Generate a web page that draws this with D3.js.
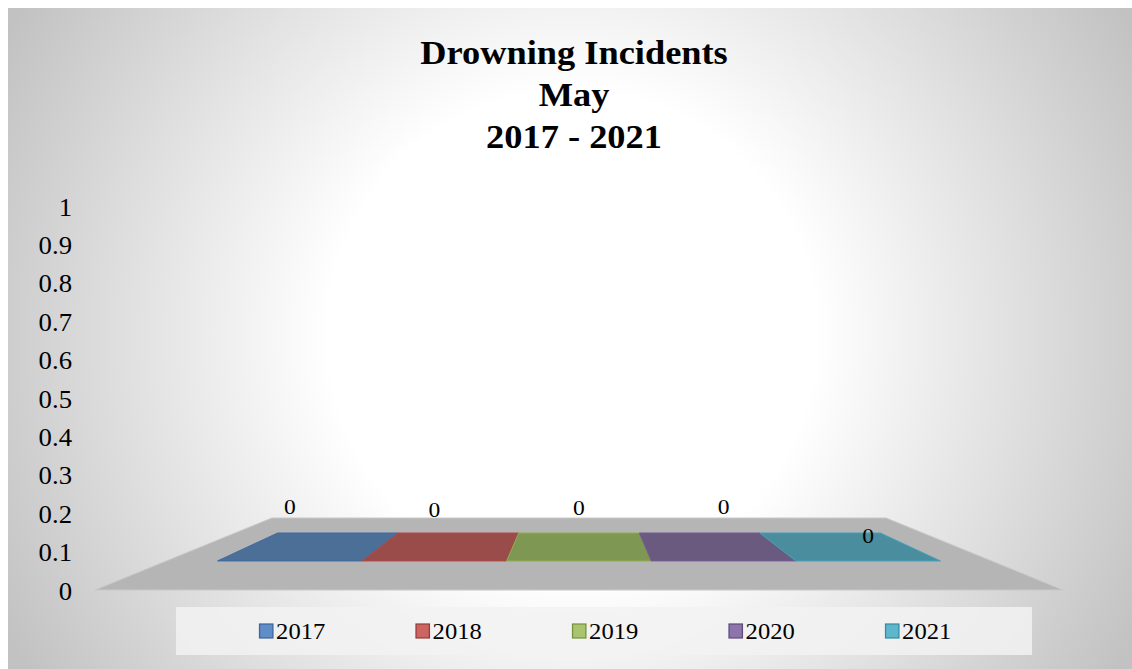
<!DOCTYPE html>
<html>
<head>
<meta charset="utf-8">
<script src="https://cdn.jsdelivr.net/npm/d3@7/dist/d3.min.js"></script>
<style>
  body { margin: 0; background: #fff; }
  text { font-family: "Liberation Serif", "Times New Roman", serif; fill: #000; }
</style>
</head>
<body>
<div id="chart"></div>
<script>
// data
var years = ["2017", "2018", "2019", "2020", "2021"];
var values = [0, 0, 0, 0, 0];
var yTicks = [0, 0.1, 0.2, 0.3, 0.4, 0.5, 0.6, 0.7, 0.8, 0.9, 1];
var titleLines = ["Drowning Incidents", "May", "2017 - 2021"];
var legendColors = ["#5f8dc8", "#cc6461", "#a8c46f", "#8d74aa", "#5eb6cc"];
var legendStroke = ["#3d6596", "#963c3a", "#76923f", "#5f4a7c", "#358ba0"];
var topColors = ["#4c6f97", "#9a4c4a", "#7e9753", "#6b5a80", "#4a8d9e"];
var edgeColors = ["#3f6aa3", "#b04a47", "#8fae4f", "#735b94", "#43a0b8"];

var width = 1132, height = 669;
var stretch = 1.07; // text in the picture is a little wide

var svg = d3.select("#chart").append("svg")
    .attr("width", width)
    .attr("height", height);

// background
var defs = svg.append("defs");
var grad = defs.append("radialGradient")
    .attr("id", "bg")
    .attr("gradientUnits", "userSpaceOnUse")
    .attr("cx", 572).attr("cy", 335).attr("r", 640);
grad.append("stop").attr("offset", 0).attr("stop-color", "#ffffff");
grad.append("stop").attr("offset", 0.38).attr("stop-color", "#ffffff");
grad.append("stop").attr("offset", 1).attr("stop-color", "#c2c2c2");

svg.append("rect")
    .attr("x", 8).attr("y", 8)
    .attr("width", width).attr("height", height)
    .attr("fill", "url(#bg)");

// title
var title = svg.append("g")
    .attr("transform", "translate(574,0) scale(" + stretch + ",1)");
title.selectAll("text")
    .data(titleLines)
    .enter().append("text")
    .attr("x", 0)
    .attr("y", function (d, i) { return 64 + i * 42; })
    .attr("text-anchor", "middle")
    .attr("font-size", 34)
    .attr("font-weight", "bold")
    .text(function (d) { return d; });

// y axis (labels only)
var y = d3.scaleLinear().domain([0, 1]).range([591, 207]);
var yAxis = d3.axisLeft(y)
    .tickValues(yTicks)
    .tickSize(0)
    .tickPadding(0)
    .tickFormat(function (d) { return d3.format("~g")(d); });
var gy = svg.append("g")
    .attr("transform", "translate(72,0) scale(" + stretch + ",1)")
    .call(yAxis);
gy.select(".domain").remove();
gy.selectAll("text")
    .attr("font-size", 25)
    .attr("font-family", "Liberation Serif, Times New Roman, serif")
    .attr("fill", "#000");

// 3d floor + bars, simple perspective
var vp = {x: 579, y: 393}, eye = 197;
function project(X, h, z) {
    return [vp.x + X / z, vp.y + (eye - h) / z];
}
var x = d3.scaleBand().domain(years).range([-424, 424]).padding(0);
var h = d3.scaleLinear().domain([0, 1]).range([0, 384]);
var floorX = [-484, 484], floorZ = [1, 1.576];
var barZ = [1.173, 1.407];
var line = d3.line();

svg.append("path")
    .attr("d", line([
        project(floorX[0], 0, floorZ[0]),
        project(floorX[1], 0, floorZ[0]),
        project(floorX[1], 0, floorZ[1]),
        project(floorX[0], 0, floorZ[1])
    ]) + "Z")
    .attr("fill", "#b5b5b5")
    .attr("stroke", "#c8c8c8")
    .attr("stroke-width", 1);

var bars = years.map(function (d, i) { return {year: d, value: values[i], i: i}; });

// top face of each column (height 0 -> lies on the floor)
svg.selectAll(".barTop")
    .data(bars)
    .enter().append("path")
    .attr("class", "barTop")
    .attr("d", function (d) {
        var x0 = x(d.year), x1 = x0 + x.bandwidth(), t = h(d.value);
        return line([
            project(x0, t, barZ[0]),
            project(x1, t, barZ[0]),
            project(x1, t, barZ[1]),
            project(x0, t, barZ[1])
        ]) + "Z";
    })
    .attr("fill", function (d) { return topColors[d.i]; })
    .attr("stroke", function (d) { return edgeColors[d.i]; })
    .attr("stroke-width", 1);

// data labels
var labelNudge = [0, 3, 1, 0, 29];
svg.selectAll(".lbl")
    .data(bars)
    .enter().append("text")
    .attr("class", "lbl")
    .attr("transform", function (d) {
        var p = project(x(d.year) + x.bandwidth() / 2, h(d.value), barZ[0]);
        var q = project(0, h(d.value), barZ[1]);
        return "translate(" + p[0] + "," + (q[1] - 19 + labelNudge[d.i]) + ") scale(" + stretch + ",1)";
    })
    .attr("text-anchor", "middle")
    .attr("font-size", 22)
    .text(function (d) { return d.value; });

// legend
svg.append("rect")
    .attr("x", 176).attr("y", 607)
    .attr("width", 856).attr("height", 48)
    .attr("fill", "#f2f2f2")
    .attr("fill-opacity", 0.85);

var lx = d3.scalePoint().domain(years).range([259, 885]);
var item = svg.selectAll(".leg")
    .data(years)
    .enter().append("g")
    .attr("class", "leg")
    .attr("transform", function (d) { return "translate(" + lx(d) + ",631) scale(" + stretch + ",1)"; });
item.append("rect")
    .attr("x", 0.5).attr("y", -7)
    .attr("width", 12.5).attr("height", 14)
    .attr("fill", function (d, i) { return legendColors[i]; })
    .attr("stroke", function (d, i) { return legendStroke[i]; })
    .attr("stroke-width", 1.2);
item.append("text")
    .attr("x", 16)
    .attr("y", 8)
    .attr("font-size", 23)
    .text(function (d) { return d; });
</script>
</body>
</html>
